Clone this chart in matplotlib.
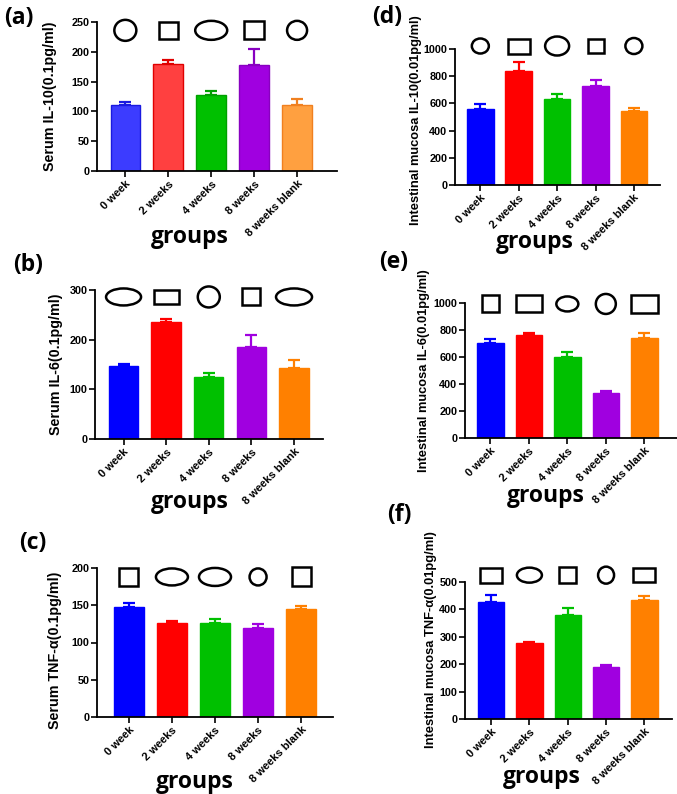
import numpy as np
import matplotlib
matplotlib.use('Agg')
import matplotlib.pyplot as plt
from matplotlib.patches import Ellipse, Rectangle
from matplotlib.transforms import ScaledTranslation

groups = ['0 week', '2 weeks', '4 weeks', '8 weeks', '8 weeks blank']

# bar heights (mean) and upper error bars
serum_il10 = [110, 180, 127.5, 178, 110]
serum_il10_err = [6, 7, 6.5, 27, 10]
serum_il6 = [147, 235, 125.5, 184.5, 142.5]
serum_il6_err = [4, 6.5, 7.5, 24.5, 16]
serum_tnf = [147, 126.5, 126, 119.5, 145]
serum_tnf_err = [6, 3, 6, 5.5, 3.5]
muc_il10 = [559, 836, 630, 728, 542]
muc_il10_err = [34, 71, 39, 44, 22]
muc_il6 = [705, 764, 597, 332, 744]
muc_il6_err = [32, 12, 39, 19, 37]
muc_tnf = [427, 277, 380, 190, 435]
muc_tnf_err = [24, 5, 26, 8, 13]

# annotation symbols above the bars: 'o' = round, 's' = box
marks_a = ['o', 's', 'o', 's', 'o']
marks_b = ['o', 's', 'o', 's', 'o']
marks_c = ['s', 'o', 'o', 'o', 's']
marks_d = ['o', 's', 'o', 's', 'o']
marks_e = ['s', 's', 'o', 'o', 's']
marks_f = ['s', 'o', 's', 'o', 's']

colors_a = ['#3c3cff', '#ff4040', '#00c000', '#a000e0', '#ffa040']
edges_a = ['#1a1ae0', '#e00000', '#00a000', '#8800c0', '#f08020']
colors = ['#0000ff', '#ff0000', '#00c000', '#a000e0', '#ff8000']

W, H = 677, 794
fig = plt.figure(figsize=(W / 100, H / 100), dpi=100)

def box(l, r, t, b):
    return [l / W, 1 - b / H, (r - l) / W, (b - t) / H]

def panel(rect, vals, errs, ylim, step, ylabel, fsize, lab_xy, xlim,
          marks, msizes, mark_y, fc, ec):
    ax = fig.add_axes(rect)
    x = np.arange(len(vals))
    ax.bar(x, vals, width=0.69, color=fc, edgecolor=ec, linewidth=1.0, zorder=2)
    for i in range(len(vals)):
        ax.errorbar(x[i], vals[i], yerr=[[0], [errs[i]]], fmt='none',
                     ecolor=ec[i], elinewidth=1.6, capsize=4.5, capthick=1.6, zorder=1)
    ax.set_xlim(*xlim)
    ax.set_ylim(0, ylim)
    ax.set_yticks(np.arange(0, ylim + 1, step))
    ax.set_xticks(x)
    ax.set_xticklabels(groups, rotation=45, ha='right', rotation_mode='anchor',
                       fontsize=8, fontweight='bold', family='Liberation Sans')
    for t in ax.get_yticklabels():
        t.set_fontsize(7.8)
        t.set_fontweight('bold')
        t.set_family('Liberation Sans')
    ax.tick_params(width=1.2, length=4, pad=1.5)
    for s in ['top', 'right']:
        ax.spines[s].set_visible(False)
    for s in ['left', 'bottom']:
        ax.spines[s].set_linewidth(1.3)
    ax.set_ylabel(ylabel, fontsize=fsize, fontweight='bold', family='Liberation Sans')
    ax.yaxis.set_label_coords(*lab_xy)
    # outlined symbols, sized in pixels
    for i, (m, (w, h)) in enumerate(zip(marks, msizes)):
        tr = fig.dpi_scale_trans + ScaledTranslation(x[i], mark_y, ax.transData)
        if m == 'o':
            p = Ellipse((0, 0), w / 100, h / 100, fill=False, lw=1.8,
                        ec='black', transform=tr, clip_on=False)
        else:
            p = Rectangle((-w / 200, -h / 200), w / 100, h / 100, fill=False, lw=1.8,
                          ec='black', transform=tr, clip_on=False)
        ax.add_patch(p)
    return ax

lab_font = dict(family='Open Sans', fontweight='bold')

panel(box(97, 337, 22, 171), serum_il10, serum_il10_err, 250, 50,
      'Serum IL-10(0.1pg/ml)', 10.3, (-0.165, 0.5), (-0.66, 4.93),
      marks_a, [(22, 21), (19, 17), (32, 19), (20, 18), (20, 19)], 236,
      colors_a, edges_a)
panel(box(95, 323, 290, 439), serum_il6, serum_il6_err, 300, 100,
      'Serum IL-6(0.1pg/ml)', 10.3, (-0.14, 0.5), (-0.67, 4.68),
      marks_b, [(35, 17), (25, 14), (22, 21), (18, 17), (36, 17)], 286,
      colors, colors)
panel(box(97, 333, 568, 717), serum_tnf, serum_tnf_err, 200, 50,
      'Serum TNF-α(0.1pg/ml)', 10.3, (-0.148, 0.45), (-0.74, 4.74),
      marks_c, [(19, 18), (32, 17), (32, 18), (17, 17), (19, 19)], 188,
      colors, colors)
panel(box(455, 660, 49, 185), muc_il10, muc_il10_err, 1000, 200,
      'Intestinal mucosa IL-10(0.01pg/ml)', 9.3, (-0.16, 0.48), (-0.66, 4.68),
      marks_d, [(17, 15), (22, 15), (24, 19), (16, 14), (17, 16)], 1022,
      colors, colors)
panel(box(465, 677, 303, 438), muc_il6, muc_il6_err, 1000, 200,
      'Intestinal mucosa IL-6(0.01pg/ml)', 9.3, (-0.165, 0.5), (-0.66, 4.85),
      marks_e, [(17, 17), (26, 17), (22, 15), (20, 20), (27, 18)], 993,
      colors, colors)
panel(box(465, 672, 582, 719), muc_tnf, muc_tnf_err, 500, 100,
      'Intestinal mucosa TNF-α(0.01pg/ml)', 9.3, (-0.135, 0.58), (-0.68, 4.72),
      marks_f, [(22, 15), (25, 15), (17, 16), (16, 17), (22, 14)], 525,
      colors, colors)

# panel letters and x titles
for s, px, py in [('(a)', 19, 18), ('(b)', 28, 265), ('(c)', 33, 543),
                  ('(d)', 387, 17), ('(e)', 394, 262), ('(f)', 399, 515)]:
    fig.text(px / W, 1 - py / H, s, fontsize=16.5, ha='center', va='center', **lab_font)
for px, py in [(190, 237), (190, 502), (195, 782), (535, 242), (546, 496), (542, 777)]:
    fig.text(px / W, 1 - py / H, 'groups', fontsize=16.5, ha='center', va='center', **lab_font)

fig.savefig('out.png', dpi=100)
